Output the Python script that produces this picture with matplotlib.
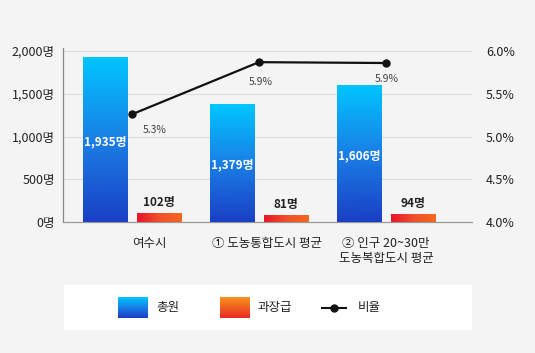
import numpy as np
import matplotlib
matplotlib.use("Agg")
import matplotlib.pyplot as plt
from matplotlib.colors import LinearSegmentedColormap
from matplotlib.lines import Line2D

plt.rcParams['font.family'] = ['Noto Sans CJK KR', 'DejaVu Sans']

# data
categories = ["여수시", "① 도농통합도시 평균", "② 인구 20~30만\n도농복합도시 평균"]
total_staff = [1935, 1379, 1606]      # 총원
manager_staff = [102, 81, 94]         # 과장급
ratio = [5.26, 5.87, 5.86]            # 비율 (%)
ratio_labels = ["5.3%", "5.9%", "5.9%"]
left_ticks = [0, 500, 1000, 1500, 2000]
right_ticks = [4.0, 4.5, 5.0, 5.5, 6.0]

bg = "#f4f4f4"
blue_cmap = LinearSegmentedColormap.from_list("blue", ["#1a3fc4", "#1a7fe6", "#00c6ff"])
orange_cmap = LinearSegmentedColormap.from_list("orange", ["#e8152a", "#f0502a", "#f5681f"])
legend_orange = LinearSegmentedColormap.from_list("lorange", ["#ea2a25", "#f7941d"])

fig = plt.figure(figsize=(5.35, 3.53), dpi=100, facecolor=bg)
W, H = 535, 353
ax = fig.add_axes([63 / W, 1 - 222 / H, (472 - 63) / W, (222 - 48) / H])
ax.set_facecolor(bg)

x = np.arange(len(categories))
bw = 0.35
off = 0.213
top = 2000 + 6 / 84 * 500
ax.set_xlim(-0.543, -0.543 + 409 / 127)
ax.set_ylim(0, top)


def gradient_bars(bars, cmap, vertical=True):
    grad = np.linspace(0, 1, 256)
    img = grad.reshape(-1, 1) if vertical else grad.reshape(1, -1)
    for b in bars:
        bx, by = b.get_x(), b.get_y()
        w, h = b.get_width(), b.get_height()
        b.set_facecolor("none")
        im = ax.imshow(img, cmap=cmap, origin="lower", aspect="auto",
                       extent=[bx, bx + w, by, by + h], zorder=3)
        im.set_clip_path(b)


blue = ax.bar(x - off, total_staff, bw, linewidth=0, zorder=3)
orange = ax.bar(x + off, manager_staff, bw, linewidth=0, zorder=3)
gradient_bars(blue, blue_cmap, vertical=True)
gradient_bars(orange, orange_cmap, vertical=False)
ax.set_xlim(-0.543, -0.543 + 409 / 127)
ax.set_ylim(0, top)

for xi, v in zip(x, total_staff):
    ax.text(xi - off, v * 0.485, f"{v:,}명", ha="center", va="center",
            color="white", fontsize=8.5, fontweight="bold", zorder=5)
for xi, v in zip(x, manager_staff):
    ax.annotate(f"{v}명", (xi + off, v), xytext=(0, 3), textcoords="offset points",
                ha="center", va="bottom", color="#222222", fontsize=8.5,
                fontweight="bold", zorder=5)

# grid
for t in left_ticks[1:]:
    ax.axhline(t, color="#dddddd", linewidth=0.8, zorder=0)
ax.set_yticks(left_ticks)
ax.set_yticklabels([f"{t:,}명" for t in left_ticks], fontsize=9, color="#222222")
ax.tick_params(axis="y", length=0, pad=6)
ax.set_xticks(x + np.array([0.14, 0.06, 0.0]))
ax.set_xticklabels(categories, fontsize=9, color="#222222", linespacing=1.2)
ax.tick_params(axis="x", length=0, pad=11)
for s in ["top", "right"]:
    ax.spines[s].set_visible(False)
ax.spines["left"].set_color("#888888")
ax.spines["bottom"].set_color("#999999")
ax.spines["left"].set_linewidth(0.9)
ax.spines["bottom"].set_linewidth(0.9)

# ratio line
ax2 = ax.twinx()
ax2.set_ylim(4.0, 4.0 + top / 1000)
ax2.plot(x, ratio, color="#111111", linewidth=1.6, marker="o", markersize=5, zorder=6)
offsets = [(23, -16), (2, -20), (1, -16)]
for xi, r, lab, o in zip(x, ratio, ratio_labels, offsets):
    ax2.annotate(lab, (xi, r), xytext=(o[0] * 0.72, o[1] * 0.72), textcoords="offset points",
                 ha="center", va="center", fontsize=7.5, color="#444444")
ax2.set_yticks(right_ticks)
ax2.set_yticklabels([f"{t:.1f}%" for t in right_ticks], fontsize=9, color="#222222")
ax2.tick_params(axis="y", length=0, pad=10)
for s in ["top", "right", "left", "bottom"]:
    ax2.spines[s].set_visible(False)

# legend box
lax = fig.add_axes([64 / W, 1 - 330 / H, (472 - 64) / W, 45 / H])
lax.set_facecolor("white")
lax.set_xticks([])
lax.set_yticks([])
for s in lax.spines.values():
    s.set_visible(False)
grad = np.linspace(1, 0, 64).reshape(-1, 1)
lax.imshow(grad, cmap=blue_cmap, origin="upper", aspect="auto", extent=[118, 148, 318, 297])
lax.imshow(grad, cmap=legend_orange, origin="upper", aspect="auto", extent=[220, 250, 318, 297])
lax.add_line(Line2D([322, 346], [307.5, 307.5], color="#111111", linewidth=1.5))
lax.plot([334], [307.5], "o", color="#111111", markersize=5)
for tx, lab in [(156, "총원"), (258, "과장급"), (358, "비율")]:
    lax.text(tx, 307.5, lab, ha="left", va="center", fontsize=9, color="#222222")
lax.set_xlim(64, 472)
lax.set_ylim(330, 285)

fig.savefig("out.png", dpi=100, facecolor=bg)
